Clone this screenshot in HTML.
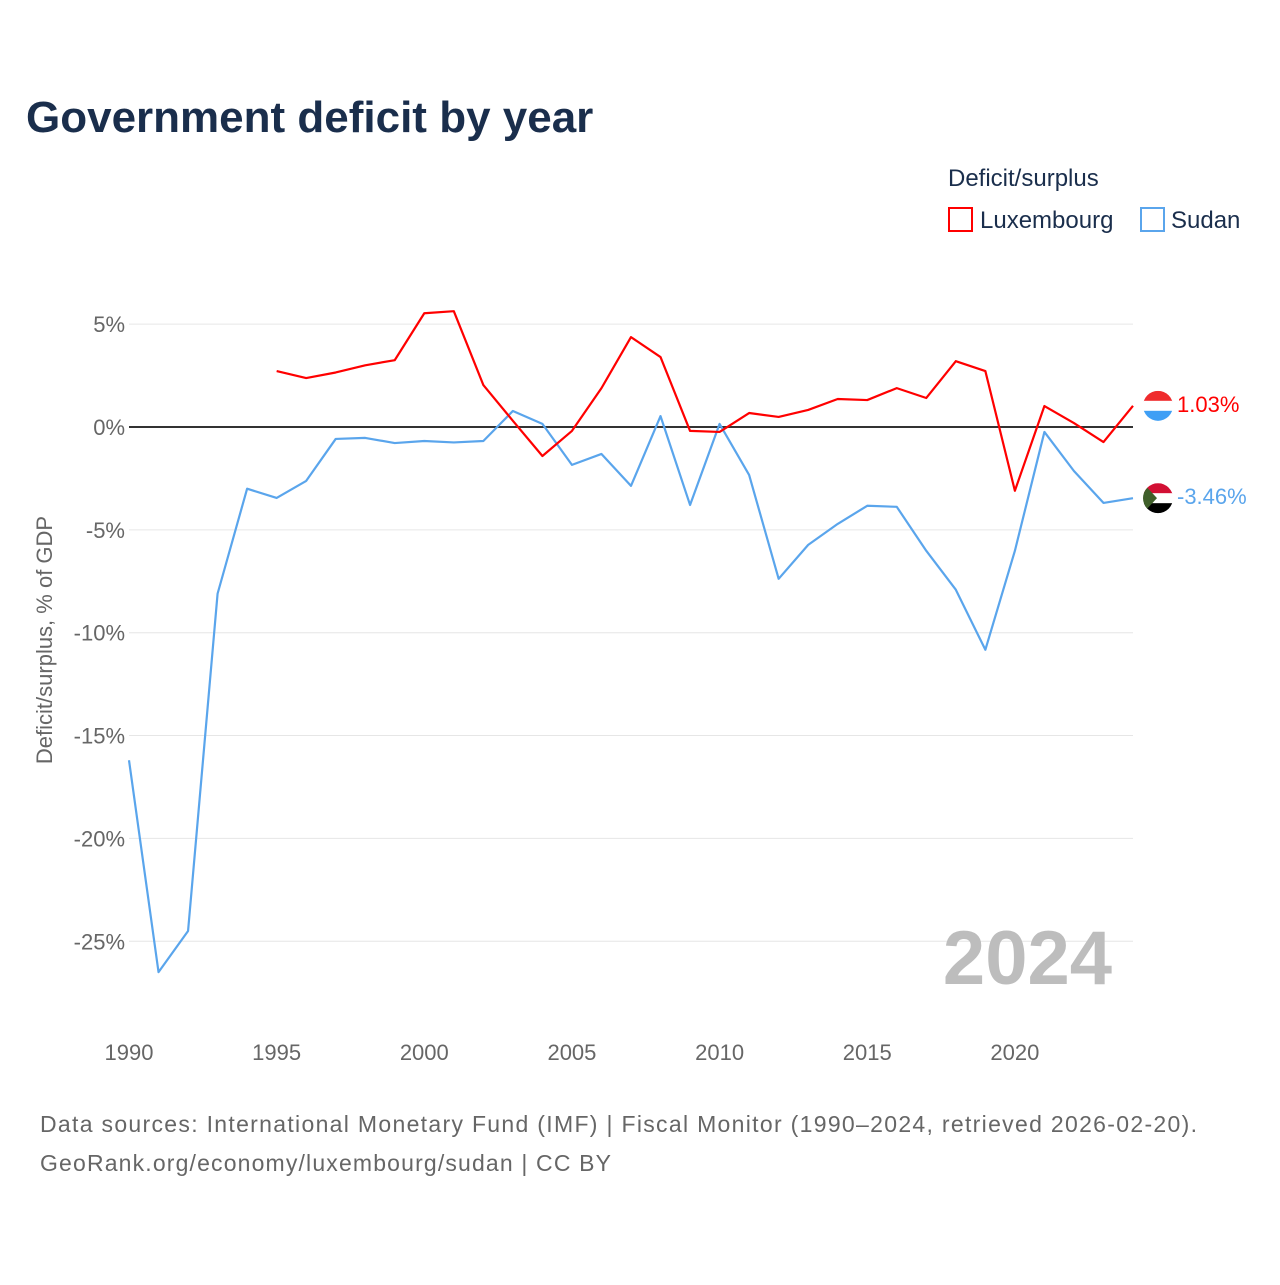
<!DOCTYPE html>
<html><head><meta charset="utf-8">
<style>
body{margin:0;background:#fff;width:1280px;height:1280px;overflow:hidden;font-family:"Liberation Sans",sans-serif}
svg text{font-family:"Liberation Sans",sans-serif}
</style></head>
<body>
<svg id="chart" width="1280" height="1280">
<text x="26" y="132" font-size="44" font-weight="bold" fill="#1a2e4c">Government deficit by year</text>
<text x="948" y="186" font-size="24" fill="#1a2e4c">Deficit/surplus</text>
<g><rect x="949" y="208" width="23" height="23" fill="none" stroke="#ff0000" stroke-width="2"/><text x="980" y="228" font-size="24" fill="#1a2e4c">Luxembourg</text></g>
<g><rect x="1141" y="208" width="23" height="23" fill="none" stroke="#5aa5ec" stroke-width="2"/><text x="1171" y="228" font-size="24" fill="#1a2e4c">Sudan</text></g>
<g id="grid"></g><g id="xt"></g><g id="lines"></g>
<text transform="translate(52,640) rotate(-90)" text-anchor="middle" font-size="22" fill="#666">Deficit/surplus, % of GDP</text>
<text x="1112" y="984" text-anchor="end" font-size="76" font-weight="bold" fill="#bdbdbd">2024</text>
<text x="40" y="1132" font-size="23" fill="#666" textLength="1157" lengthAdjust="spacing">Data sources: International Monetary Fund (IMF) | Fiscal Monitor (1990–2024, retrieved 2026-02-20).</text>
<text x="40" y="1171" font-size="23" fill="#666" textLength="571" lengthAdjust="spacing">GeoRank.org/economy/luxembourg/sudan | CC BY</text>
</svg>
<script>
const yTicks=[5,0,-5,-10,-15,-20,-25];
const xTicks=[1990,1995,2000,2005,2010,2015,2020];
const luxYears=[1995,1996,1997,1998,1999,2000,2001,2002,2003,2004,2005,2006,2007,2008,2009,2010,2011,2012,2013,2014,2015,2016,2017,2018,2019,2020,2021,2022,2023,2024];
const luxValues=[2.72,2.38,2.65,3.0,3.25,5.53,5.63,2.04,0.3,-1.41,-0.19,1.89,4.37,3.4,-0.19,-0.24,0.68,0.49,0.83,1.36,1.31,1.89,1.41,3.2,2.72,-3.1,1.02,0.19,-0.73,1.03];
const sudYears=[1990,1991,1992,1993,1994,1995,1996,1997,1998,1999,2000,2001,2002,2003,2004,2005,2006,2007,2008,2009,2010,2011,2012,2013,2014,2015,2016,2017,2018,2019,2020,2021,2022,2023,2024];
const sudValues=[-16.2,-26.5,-24.5,-8.1,-3.0,-3.45,-2.62,-0.58,-0.53,-0.78,-0.68,-0.75,-0.68,0.78,0.15,-1.84,-1.31,-2.86,0.53,-3.79,0.15,-2.33,-7.38,-5.73,-4.71,-3.83,-3.88,-6.02,-7.91,-10.83,-6.02,-0.24,-2.14,-3.69,-3.46];
const NS="http://www.w3.org/2000/svg";
const X=y=>129+(y-1990)*(1004/34);
const Y=v=>427-v*20.57;
function mk(t,a,p){const e=document.createElementNS(NS,t);for(const k in a)e.setAttribute(k,a[k]);p.appendChild(e);return e;}
const grid=document.getElementById('grid');
yTicks.forEach(v=>{
 const l=mk('line',{x1:129,x2:1133,y1:Y(v),y2:Y(v),stroke:v===0?'#333':'#e6e6e6','stroke-width':v===0?2:1},grid);
 
 
 const t=mk('text',{x:125,y:Y(v)+8,'text-anchor':'end','font-size':22,fill:'#666'},grid);
 t.textContent=v+'%';
 
 
});
const xt=document.getElementById('xt');
xTicks.forEach(y=>{
 const t=mk('text',{x:X(y),y:1060,'text-anchor':'middle','font-size':22,fill:'#666'},xt);
 t.textContent=y;
 
 
});
const lines=document.getElementById('lines');
function series(ys,vs,c,name){
 const p=mk('polyline',{points:ys.map((y,i)=>X(y)+','+Y(vs[i])).join(' '),fill:'none',stroke:c,'stroke-width':2.2,'stroke-linejoin':'round'},lines);
 
 
}
series(sudYears,sudValues,'#5aa5ec','sudan');
series(luxYears,luxValues,'#ff0000','luxembourg');
function flag(v,stripes,tri,c,label,name){
 const cy=Y(v),cx=1158,r=15;
 const g=mk('g',{},lines);
 
 
 const id='clip'+name;
 const cp=mk('clipPath',{id:id},g);mk('circle',{cx:cx,cy:cy,r:r},cp);
 const gg=mk('g',{'clip-path':'url(#'+id+')'},g);
 stripes.forEach((s,i)=>mk('rect',{x:cx-r,y:cy-r+i*2*r/3,width:2*r,height:2*r/3+0.5,fill:s},gg));
 if(tri)mk('polygon',{points:(cx-r)+','+(cy-r)+' '+(cx-1)+','+cy+' '+(cx-r)+','+(cy+r),fill:tri},gg);
 const t=mk('text',{x:1177,y:cy+6,'font-size':22,fill:c},g);t.textContent=label;
}
flag(luxValues[luxValues.length-1],['#ef2b2d','#ffffff','#3f9ff5'],null,'#ff0000',luxValues[luxValues.length-1].toFixed(2)+'%','luxembourg');
flag(sudValues[sudValues.length-1],['#d21034','#ffffff','#000000'],'#3f5f2a','#5aa5ec',sudValues[sudValues.length-1].toFixed(2)+'%','sudan');
</script>
</body></html>
